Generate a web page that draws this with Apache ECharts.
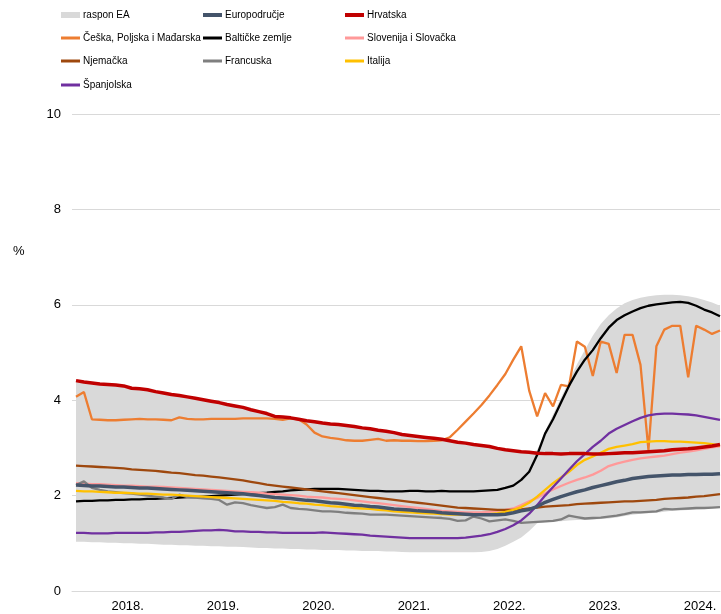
<!DOCTYPE html>
<html lang="hr">
<head>
    <meta charset="UTF-8">
    <title>Raspon EA</title>
    <script src="https://cdn.jsdelivr.net/npm/echarts@6.0.0/dist/echarts.min.js"></script>
    <style>
        html, body { margin: 0; padding: 0; background: #fff; }
        #main { width: 721px; height: 614px; }
    </style>
</head>
<body>
<div id="main"></div>
<script>
    // mjesečni podaci, prosinac 2017. - rujan 2024. (82 mjeseca)
    var yearLabels = ['2018.', '2019.', '2020.', '2021.', '2022.', '2023.', '2024.'];
    var yearLabelPos = [6.5, 18.5, 30.5, 42.5, 54.5, 66.5, 78.5];

    var hrvatska = [4.41,
        4.38,4.36,4.34,4.33,4.32,4.30,4.25,4.24,4.22,4.18,4.15,4.12,
        4.10,4.07,4.04,4.01,3.98,3.95,3.91,3.88,3.85,3.80,3.76,3.72,
        3.66,3.65,3.63,3.60,3.57,3.55,3.52,3.50,3.49,3.47,3.45,3.42,
        3.40,3.37,3.35,3.32,3.28,3.26,3.24,3.22,3.20,3.18,3.15,3.12,
        3.10,3.07,3.05,3.03,2.99,2.96,2.94,2.92,2.91,2.89,2.88,2.88,
        2.87,2.88,2.88,2.88,2.87,2.87,2.88,2.89,2.90,2.90,2.91,2.92,
        2.93,2.94,2.96,2.97,2.98,3.00,3.02,3.04,3.07];

    var cph = [4.07,
        4.17,3.60,3.59,3.58,3.58,3.59,3.60,3.61,3.60,3.60,3.59,3.58,
        3.64,3.61,3.60,3.60,3.61,3.61,3.61,3.61,3.62,3.62,3.62,3.62,
        3.61,3.59,3.62,3.60,3.49,3.32,3.24,3.21,3.19,3.16,3.15,3.15,
        3.17,3.19,3.15,3.16,3.15,3.15,3.14,3.14,3.15,3.16,3.22,3.38,
        3.55,3.72,3.90,4.10,4.32,4.55,4.85,5.13,4.20,3.66,4.15,3.87,
        4.32,4.29,5.23,5.12,4.51,5.23,5.18,4.57,5.37,5.37,4.74,2.96,
        5.13,5.48,5.56,5.56,4.48,5.56,5.48,5.39,5.46];

    var baltik = [1.88,
        1.89,1.89,1.90,1.90,1.91,1.91,1.92,1.92,1.93,1.93,1.94,1.95,
        1.96,1.97,1.97,1.98,1.99,2.00,2.01,2.02,2.03,2.04,2.05,2.06,
        2.08,2.09,2.11,2.12,2.13,2.14,2.14,2.14,2.14,2.13,2.12,2.11,
        2.10,2.10,2.09,2.09,2.09,2.10,2.10,2.09,2.09,2.10,2.09,2.09,
        2.09,2.09,2.10,2.11,2.12,2.16,2.21,2.33,2.50,2.85,3.30,3.60,
        3.95,4.30,4.60,4.85,5.05,5.30,5.52,5.68,5.78,5.86,5.93,5.98,
        6.01,6.03,6.05,6.06,6.04,5.98,5.90,5.84,5.76];

    var europodrucje = [2.22,
        2.21,2.20,2.20,2.19,2.18,2.18,2.17,2.16,2.16,2.15,2.14,2.13,
        2.12,2.11,2.10,2.09,2.08,2.07,2.06,2.05,2.04,2.02,2.00,1.98,
        1.96,1.95,1.94,1.92,1.90,1.89,1.87,1.85,1.84,1.82,1.80,1.79,
        1.77,1.76,1.74,1.72,1.71,1.70,1.68,1.67,1.66,1.64,1.63,1.62,
        1.61,1.60,1.60,1.60,1.60,1.61,1.64,1.68,1.71,1.77,1.86,1.92,
        1.98,2.03,2.08,2.12,2.17,2.21,2.25,2.29,2.32,2.36,2.38,2.40,
        2.41,2.42,2.43,2.43,2.44,2.44,2.45,2.45,2.46];

    var slovSlov = [2.26,
        2.25,2.24,2.24,2.23,2.22,2.21,2.21,2.20,2.19,2.19,2.18,2.17,
        2.16,2.15,2.14,2.13,2.12,2.11,2.10,2.09,2.08,2.07,2.06,2.04,
        2.03,2.02,2.01,2.00,1.98,1.97,1.96,1.94,1.93,1.92,1.90,1.88,
        1.86,1.84,1.82,1.80,1.78,1.76,1.74,1.72,1.70,1.68,1.67,1.66,
        1.65,1.65,1.65,1.66,1.68,1.70,1.73,1.80,1.88,1.95,2.05,2.13,
        2.20,2.27,2.33,2.38,2.44,2.52,2.62,2.67,2.71,2.75,2.78,2.80,
        2.82,2.84,2.87,2.90,2.92,2.95,2.98,3.01,3.03];

    var njemacka = [2.63,
        2.62,2.61,2.60,2.59,2.58,2.57,2.55,2.54,2.53,2.52,2.50,2.48,
        2.47,2.45,2.43,2.42,2.40,2.38,2.36,2.34,2.32,2.29,2.26,2.23,
        2.21,2.19,2.17,2.15,2.13,2.11,2.09,2.07,2.05,2.03,2.01,1.99,
        1.97,1.95,1.93,1.91,1.89,1.87,1.85,1.83,1.81,1.79,1.77,1.75,
        1.74,1.73,1.72,1.71,1.70,1.70,1.70,1.71,1.73,1.75,1.77,1.78,
        1.79,1.80,1.82,1.83,1.84,1.85,1.86,1.87,1.88,1.88,1.89,1.90,
        1.91,1.93,1.94,1.95,1.96,1.98,1.99,2.01,2.03];

    var francuska = [2.22,
        2.30,2.16,2.12,2.09,2.07,2.05,2.04,2.02,2.00,1.98,1.96,1.93,
        2.02,1.97,1.96,1.94,1.93,1.91,1.81,1.86,1.84,1.80,1.77,1.74,
        1.76,1.81,1.74,1.72,1.71,1.69,1.67,1.67,1.66,1.64,1.63,1.62,
        1.60,1.60,1.60,1.59,1.58,1.57,1.56,1.55,1.54,1.53,1.51,1.47,
        1.48,1.56,1.52,1.46,1.48,1.50,1.47,1.43,1.44,1.45,1.46,1.47,
        1.50,1.58,1.55,1.52,1.53,1.54,1.56,1.58,1.61,1.65,1.65,1.66,
        1.67,1.72,1.71,1.72,1.73,1.74,1.74,1.75,1.76];

    var italija = [2.10,
        2.09,2.09,2.08,2.07,2.06,2.06,2.05,2.04,2.04,2.03,2.02,2.02,
        2.01,2.00,1.99,1.98,1.97,1.96,1.95,1.94,1.93,1.92,1.91,1.90,
        1.89,1.87,1.86,1.84,1.83,1.81,1.80,1.78,1.77,1.76,1.74,1.73,
        1.72,1.70,1.69,1.67,1.66,1.65,1.64,1.63,1.62,1.61,1.60,1.60,
        1.60,1.60,1.60,1.61,1.63,1.66,1.70,1.76,1.85,1.98,2.12,2.26,
        2.38,2.50,2.64,2.75,2.82,2.90,2.98,3.02,3.05,3.08,3.12,3.13,
        3.14,3.14,3.13,3.13,3.12,3.11,3.10,3.08,3.05];

    var spanjolska = [1.22,
        1.22,1.21,1.21,1.21,1.22,1.22,1.22,1.22,1.22,1.23,1.23,1.24,
        1.24,1.25,1.26,1.27,1.27,1.28,1.27,1.25,1.25,1.24,1.24,1.23,
        1.23,1.22,1.22,1.22,1.22,1.22,1.23,1.22,1.21,1.20,1.19,1.18,
        1.16,1.15,1.14,1.13,1.12,1.11,1.11,1.11,1.11,1.11,1.11,1.11,
        1.12,1.14,1.16,1.19,1.24,1.30,1.38,1.48,1.62,1.80,2.00,2.18,
        2.36,2.54,2.72,2.87,3.02,3.15,3.30,3.40,3.48,3.56,3.63,3.68,
        3.71,3.72,3.72,3.71,3.70,3.68,3.65,3.62,3.59];

    // raspon EA: gornja i donja granica
    var rasponGore = [4.39,
        4.36,4.34,4.32,4.31,4.30,4.28,4.23,4.22,4.20,4.16,4.13,4.10,
        4.08,4.05,4.02,3.99,3.96,3.93,3.89,3.86,3.83,3.78,3.74,3.70,
        3.64,3.63,3.61,3.58,3.55,3.53,3.50,3.48,3.47,3.45,3.43,3.40,
        3.38,3.35,3.33,3.30,3.26,3.24,3.22,3.20,3.18,3.16,3.13,3.10,
        3.08,3.05,3.03,3.01,2.97,2.94,2.92,2.90,2.90,2.95,3.35,3.70,
        4.05,4.40,4.75,5.05,5.35,5.60,5.78,5.92,6.03,6.10,6.15,6.18,
        6.20,6.21,6.21,6.20,6.18,6.15,6.10,6.05,5.98];

    var rasponDolje = [1.03,
        1.03,1.02,1.02,1.01,1.01,1.00,1.00,0.99,0.99,0.98,0.97,0.97,
        0.96,0.96,0.95,0.95,0.94,0.94,0.93,0.93,0.92,0.91,0.90,0.90,
        0.89,0.89,0.88,0.88,0.87,0.87,0.86,0.86,0.86,0.85,0.85,0.84,
        0.84,0.84,0.83,0.83,0.82,0.81,0.81,0.81,0.81,0.81,0.81,0.81,
        0.81,0.81,0.82,0.84,0.88,0.95,1.03,1.12,1.26,1.42,1.44,1.45,
        1.46,1.48,1.49,1.49,1.50,1.51,1.52,1.54,1.57,1.60,1.62,1.63,
        1.64,1.66,1.68,1.69,1.70,1.71,1.72,1.73,1.74];

    // [index, vrijednost] parovi za vrijednosnu os x
    function pairs(arr) {
        return arr.map(function (v, i) { return [i, v]; });
    }

    var chart = echarts.init(document.getElementById('main'));
    var font = 'Liberation Sans, Arial, sans-serif';

    // legenda: tri stupca
    var legendItems = [
        {name: 'raspon EA', col: 0, row: 0, h: 6},
        {name: 'Češka, Poljska i Mađarska', col: 0, row: 1, h: 3},
        {name: 'Njemačka', col: 0, row: 2, h: 3},
        {name: 'Španjolska', col: 0, row: 3, h: 3},
        {name: 'Europodručje', col: 1, row: 0, h: 4},
        {name: 'Baltičke zemlje', col: 1, row: 1, h: 3},
        {name: 'Francuska', col: 1, row: 2, h: 3},
        {name: 'Hrvatska', col: 2, row: 0, h: 4},
        {name: 'Slovenija i Slovačka', col: 2, row: 1, h: 3},
        {name: 'Italija', col: 2, row: 2, h: 3}
    ];
    var colX = [61, 203, 345];
    var rowY = [14, 37, 60, 84];

    var legends = legendItems.map(function (it) {
        return {
            data: [it.name],
            left: colX[it.col],
            top: rowY[it.row] - 4,
            padding: 0,
            itemWidth: 19,
            itemHeight: it.h,
            icon: 'rect',
            itemGap: 0,
            selectedMode: false,
            itemStyle: {borderWidth: 0},
            textStyle: {fontSize: 10, color: '#000', fontFamily: font, padding: [0, 0, 0, -2]}
        };
    });

    function lineSeries(name, data, color, width) {
        return {
            name: name,
            type: 'line',
            data: pairs(data),
            symbol: 'none',
            color: color,
            lineStyle: {color: color, width: width},
            z: 3
        };
    }

    var option = {
        animation: false,
        backgroundColor: '#fff',
        legend: legends,
        graphic: [{
            type: 'text', left: 13, top: 245,
            style: {text: '%', fontSize: 13, fill: '#000', fontFamily: font}
        }],
        grid: {left: 72, right: 1, top: 114, bottom: 23},
        xAxis: {
            type: 'value',
            min: -0.5031,
            max: 81,
            z: 5,
            splitLine: {show: false},
            axisTick: {show: false},
            axisLine: {show: true, lineStyle: {color: '#d9d9d9', width: 1}},
            axisLabel: {
                customValues: yearLabelPos,
                margin: 9,
                fontSize: 13,
                color: '#000',
                fontFamily: font,
                formatter: function (v) {
                    return yearLabels[Math.round((v - 6.5) / 12)];
                }
            }
        },
        yAxis: {
            type: 'value',
            min: 0,
            max: 10,
            interval: 2,
            axisLine: {show: false},
            axisTick: {show: false},
            splitLine: {lineStyle: {color: '#d9d9d9', width: 1}},
            axisLabel: {margin: 11, fontSize: 13, color: '#000', fontFamily: font}
        },
        series: [
            {
                // gornja granica raspona, siva ispuna do nule
                name: 'raspon EA',
                type: 'line',
                data: pairs(rasponGore),
                symbol: 'none',
                color: '#d9d9d9',
                itemStyle: {color: '#d9d9d9'},
                lineStyle: {width: 0, opacity: 0},
                areaStyle: {color: '#d9d9d9', opacity: 1},
                z: 1
            },
            {
                // donja granica raspona, bijela ispuna prekriva ostatak
                name: 'donja',
                type: 'line',
                data: pairs(rasponDolje),
                symbol: 'none',
                lineStyle: {width: 0, opacity: 0},
                areaStyle: {color: '#ffffff', opacity: 1},
                z: 2
            },
            lineSeries('Češka, Poljska i Mađarska', cph, '#ed7d31', 2.3),
            lineSeries('Baltičke zemlje', baltik, '#000000', 2.3),
            lineSeries('Slovenija i Slovačka', slovSlov, '#ff9999', 2.3),
            lineSeries('Njemačka', njemacka, '#9e480e', 2.3),
            lineSeries('Francuska', francuska, '#7f7f7f', 2.3),
            lineSeries('Italija', italija, '#ffc000', 2.3),
            lineSeries('Španjolska', spanjolska, '#7030a0', 2.3),
            lineSeries('Europodručje', europodrucje, '#44546a', 3.5),
            lineSeries('Hrvatska', hrvatska, '#c00000', 3.5)
        ]
    };
    chart.setOption(option);
</script>
</body>
</html>
